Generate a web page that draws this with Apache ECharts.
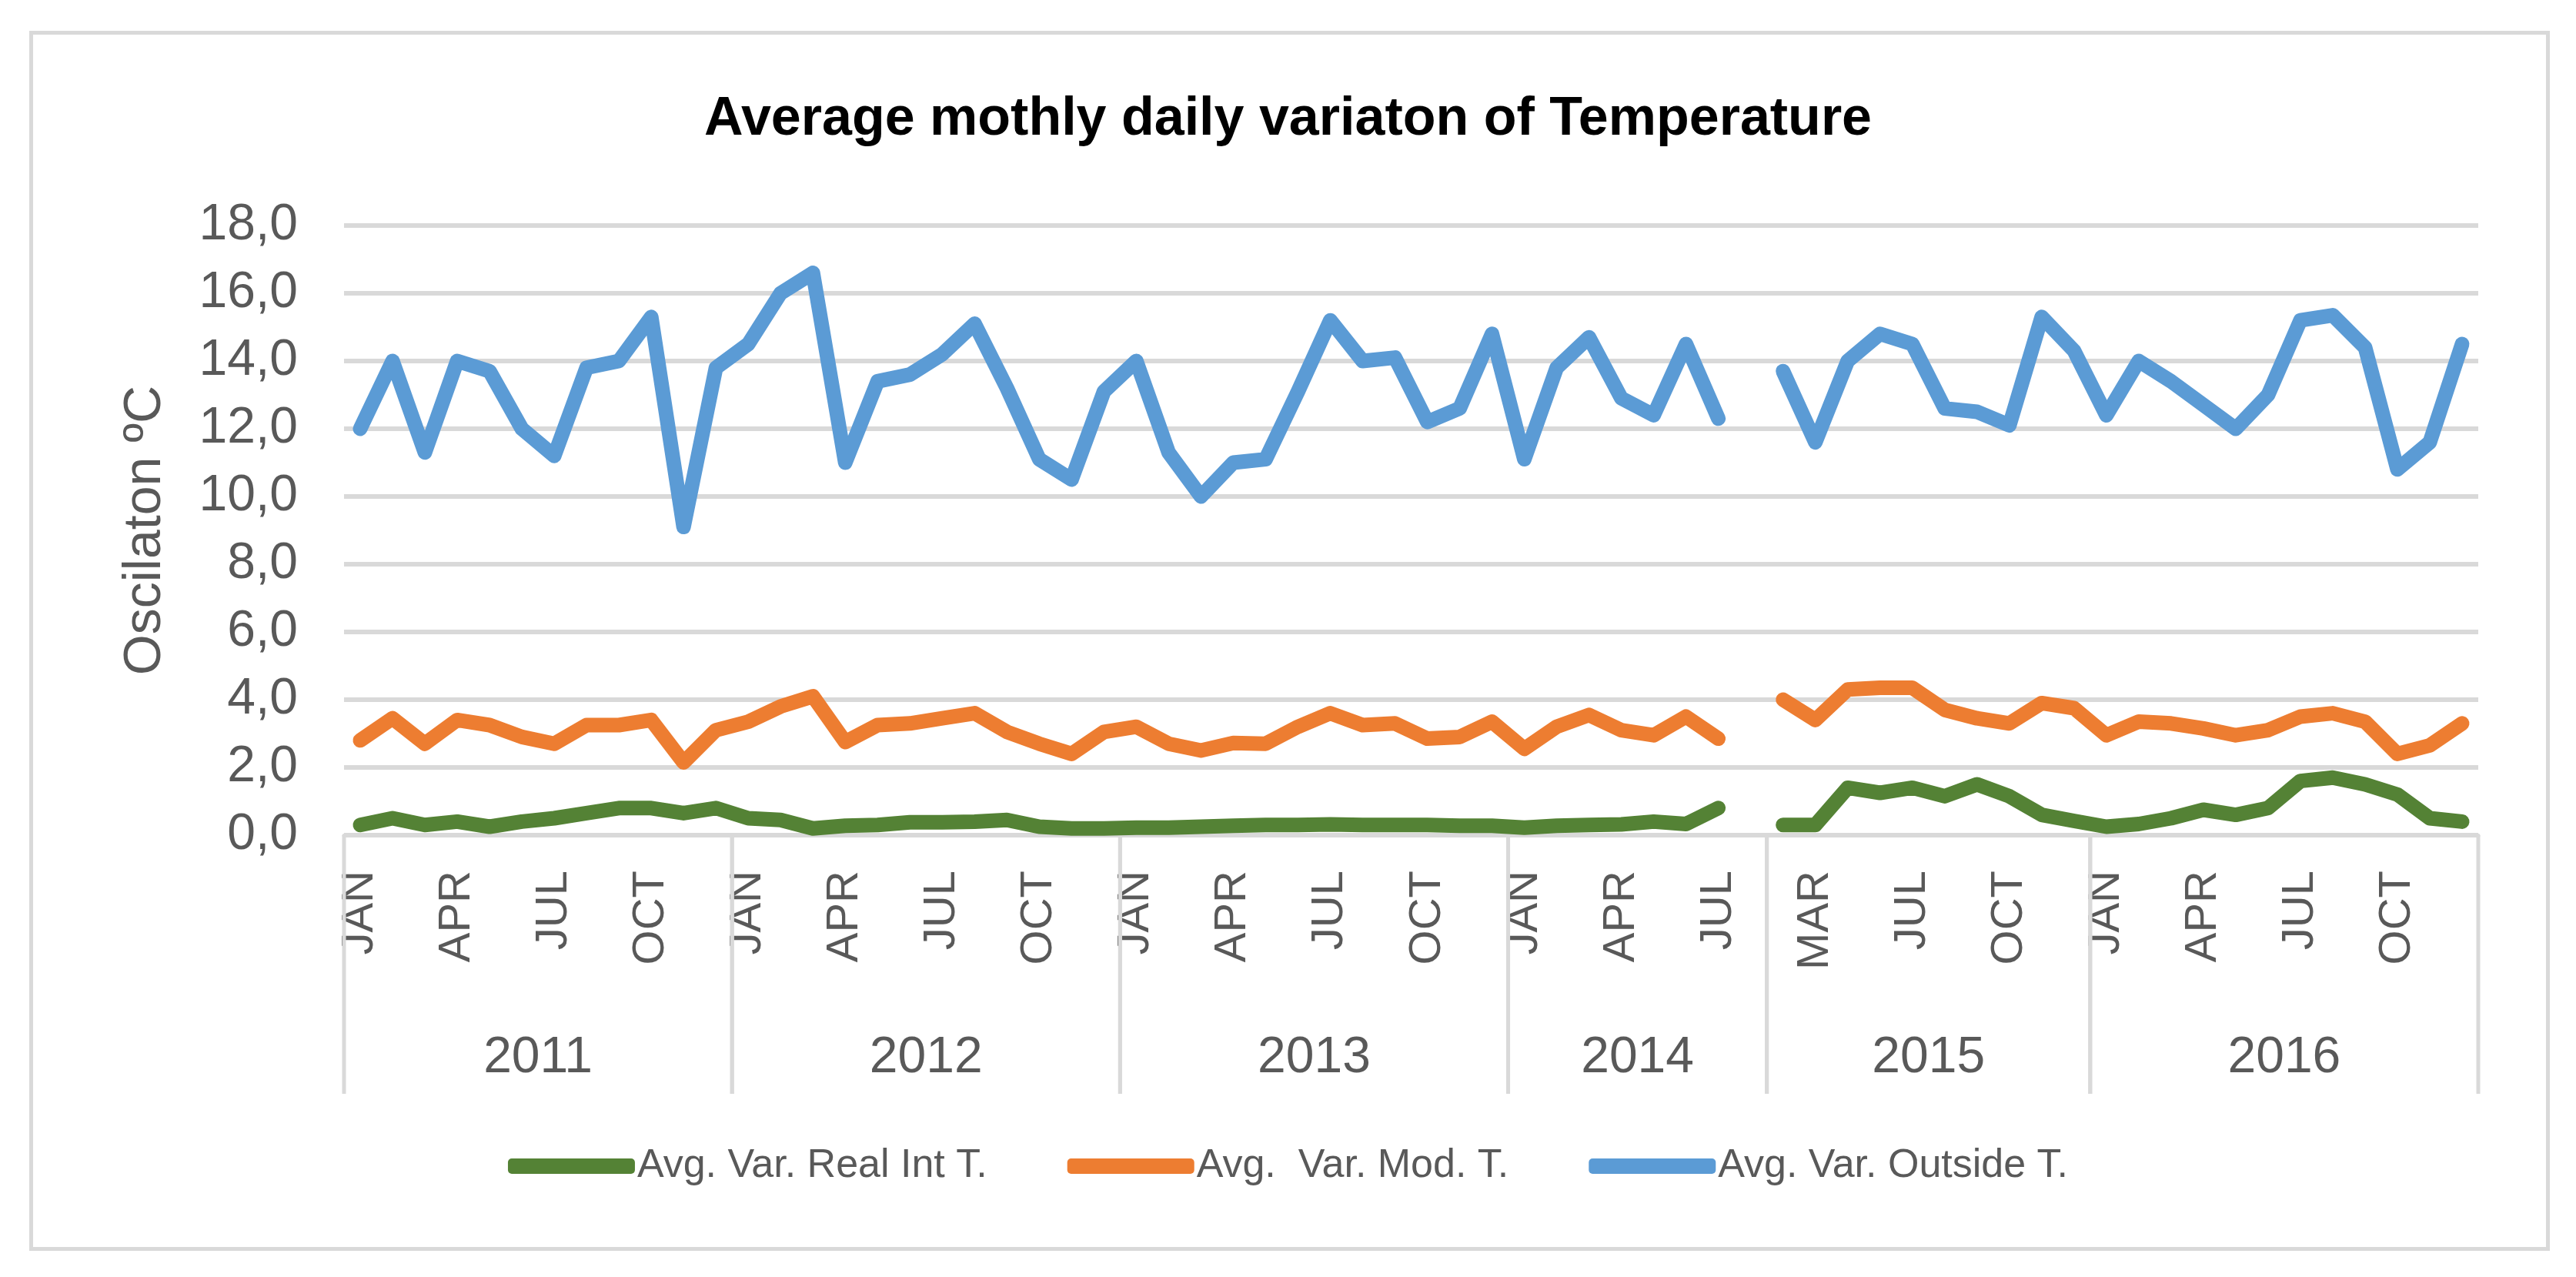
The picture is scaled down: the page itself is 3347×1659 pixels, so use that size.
<!DOCTYPE html>
<html>
<head>
<meta charset="utf-8">
<script src="https://cdn.jsdelivr.net/npm/echarts@6/dist/echarts.min.js"></script>
<style>
html,body{margin:0;padding:0;background:#fff;}
#chart{width:3347px;height:1659px;}
</style>
</head>
<body>
<div id="chart"></div>
<script>
// ---- data ----
const years = ['2011', '2012', '2013', '2014', '2015', '2016'];
const monthsByYear = [
  ['JAN','FEB','MAR','APR','MAY','JUN','JUL','AUG','SEP','OCT','NOV','DEC'],
  ['JAN','FEB','MAR','APR','MAY','JUN','JUL','AUG','SEP','OCT','NOV','DEC'],
  ['JAN','FEB','MAR','APR','MAY','JUN','JUL','AUG','SEP','OCT','NOV','DEC'],
  ['JAN','FEB','MAR','APR','MAY','JUN','JUL','AUG'],
  ['FEB','MAR','APR','MAY','JUL','AUG','SEP','OCT','NOV','DEC'],
  ['JAN','FEB','MAR','APR','MAY','JUN','JUL','AUG','SEP','OCT','NOV','DEC']
];
const seriesNames = ['Avg. Var. Real Int T.', 'Avg.  Var. Mod. T.', 'Avg. Var. Outside T.'];
const realInt = [
  0.3, 0.5, 0.3, 0.4, 0.25, 0.4, 0.5, 0.65, 0.8, 0.8, 0.65, 0.8,
  0.5, 0.45, 0.2, 0.28, 0.3, 0.38, 0.38, 0.4, 0.45, 0.25, 0.2, 0.2,
  0.22, 0.22, 0.25, 0.28, 0.3, 0.3, 0.32, 0.3, 0.3, 0.3, 0.28, 0.28,
  0.22, 0.28, 0.3, 0.32, 0.4, 0.33, 0.8, null,
  0.3, 0.3, 1.4, 1.25, 1.4, 1.15, 1.5, 1.15, 0.6, 0.42,
  0.25, 0.33, 0.5, 0.75, 0.6, 0.8, 1.6, 1.7, 1.5, 1.2, 0.5, 0.4
];
const modT = [
  2.8, 3.45, 2.7, 3.4, 3.25, 2.9, 2.7, 3.25, 3.25, 3.4, 2.15, 3.1,
  3.35, 3.8, 4.1, 2.75, 3.25, 3.3, 3.45, 3.6, 3.05, 2.7, 2.4, 3.05,
  3.2, 2.7, 2.5, 2.72, 2.7, 3.2, 3.6, 3.25, 3.3, 2.85, 2.9, 3.35,
  2.55, 3.2, 3.55, 3.1, 2.95, 3.5, 2.85, null,
  4.0, 3.4, 4.3, 4.35, 4.35, 3.7, 3.45, 3.3, 3.9, 3.75,
  2.95, 3.35, 3.3, 3.15, 2.95, 3.1, 3.5, 3.6, 3.35, 2.4, 2.65, 3.3
];
const outside = [
  12.0, 14.0, 11.3, 14.0, 13.7, 12.0, 11.2, 13.8, 14.0, 15.3, 9.1, 13.8,
  14.5, 16.0, 16.6, 11.0, 13.4, 13.6, 14.2, 15.1, 13.2, 11.1, 10.5, 13.1,
  14.0, 11.3, 10.0, 11.0, 11.1, 13.1, 15.2, 14.0, 14.1, 12.2, 12.6, 14.8,
  11.1, 13.8, 14.7, 12.9, 12.4, 14.5, 12.3, null,
  13.7, 11.6, 14.0, 14.8, 14.5, 12.6, 12.5, 12.1, 15.3, 14.3,
  12.4, 14.0, 13.4, 12.7, 12.0, 13.0, 15.2, 15.35, 14.4, 10.8, 11.6, 14.5
];
const yTicks = { min: 0, max: 18, interval: 2 };

// ---- derived ----
const categories = [].concat(...monthsByYear);
const groups = [];
let start = 0;
monthsByYear.forEach((m) => { groups.push([start, start + m.length - 1]); start += m.length; });

const FONT = "'Liberation Sans', Arial, sans-serif";
const GRAY = '#595959';
const LINEGRAY = '#d9d9d9';
const LW = 19;

const chart = echarts.init(document.getElementById('chart'), null, { renderer: 'canvas' });
chart.setOption({
  animation: false,
  backgroundColor: '#fff',
  textStyle: { fontFamily: FONT },
  graphic: [{
    type: 'rect', left: 38, top: 40,
    shape: { width: 3270, height: 1580 },
    style: { fill: 'none', stroke: LINEGRAY, lineWidth: 5 },
    silent: true
  }],
  title: {
    text: 'Average mothly daily variaton of Temperature',
    left: 'center', top: 116,
    textStyle: { fontFamily: FONT, fontSize: 70, fontWeight: 'bold', color: '#000' }
  },
  legend: {
    data: seriesNames,
    left: 'center', top: 1484,
    icon: 'roundRect',
    itemWidth: 165, itemHeight: 20, itemGap: 104,
    textStyle: { fontFamily: FONT, fontSize: 52, color: GRAY, padding: [0, 0, 0, -2] }
  },
  grid: { left: 447, right: 127, top: 293, bottom: 574, containLabel: false },
  xAxis: {
    type: 'category',
    data: categories,
    boundaryGap: true,
    axisLine: { lineStyle: { color: LINEGRAY, width: 5 } },
    axisTick: { show: false },
    axisLabel: {
      interval: 2, rotate: 90, margin: 46,
      fontFamily: FONT, fontSize: 58, color: GRAY
    },
    splitLine: { show: false }
  },
  yAxis: {
    type: 'value',
    min: yTicks.min, max: yTicks.max, interval: yTicks.interval,
    name: 'Oscilaton ºC',
    nameLocation: 'middle', nameRotate: 90, nameGap: 224,
    nameTextStyle: { fontFamily: FONT, fontSize: 68, color: GRAY },
    axisLine: { show: false },
    axisTick: { show: false },
    axisLabel: {
      margin: 60, fontFamily: FONT, fontSize: 66, color: GRAY,
      formatter: v => v.toFixed(1).replace('.', ',')
    },
    splitLine: { lineStyle: { color: LINEGRAY, width: 6 } }
  },
  series: [
    {
      name: seriesNames[0], type: 'line', data: realInt,
      symbol: 'none', z: 3,
      itemStyle: { color: '#548235' },
      lineStyle: { color: '#548235', width: LW, cap: 'round', join: 'round' }
    },
    {
      name: seriesNames[1], type: 'line', data: modT,
      symbol: 'none', z: 3,
      itemStyle: { color: '#ED7D31' },
      lineStyle: { color: '#ED7D31', width: LW, cap: 'round', join: 'round' }
    },
    {
      name: seriesNames[2], type: 'line', data: outside,
      symbol: 'none', z: 3,
      itemStyle: { color: '#5B9BD5' },
      lineStyle: { color: '#5B9BD5', width: LW, cap: 'round', join: 'round' }
    },
    {
      name: 'years', type: 'custom', clip: false, silent: true, z: 1,
      data: groups.map(g => [g[0], g[1]]),
      encode: { x: [0, 1], y: -1 },
      renderItem: function (params, api) {
        const a = api.coord([api.value(0), 0]);
        const b = api.coord([api.value(1), 0]);
        const band = api.size([1, 0])[0];
        const x0 = a[0] - band / 2, x1 = b[0] + band / 2, y0 = a[1];
        const lineLen = 336;
        return {
          type: 'group',
          children: [
            { type: 'line', shape: { x1: x0, y1: y0, x2: x0, y2: y0 + lineLen },
              style: { stroke: LINEGRAY, lineWidth: 5 } },
            { type: 'line', shape: { x1: x1, y1: y0, x2: x1, y2: y0 + lineLen },
              style: { stroke: LINEGRAY, lineWidth: 5 } },
            { type: 'text', x: (x0 + x1) / 2, y: y0 + 290,
              style: { text: years[params.dataIndex], fontFamily: FONT, fontSize: 66,
                       fill: GRAY, align: 'center', verticalAlign: 'middle' } }
          ]
        };
      }
    }
  ]
});
</script>
</body>
</html>
